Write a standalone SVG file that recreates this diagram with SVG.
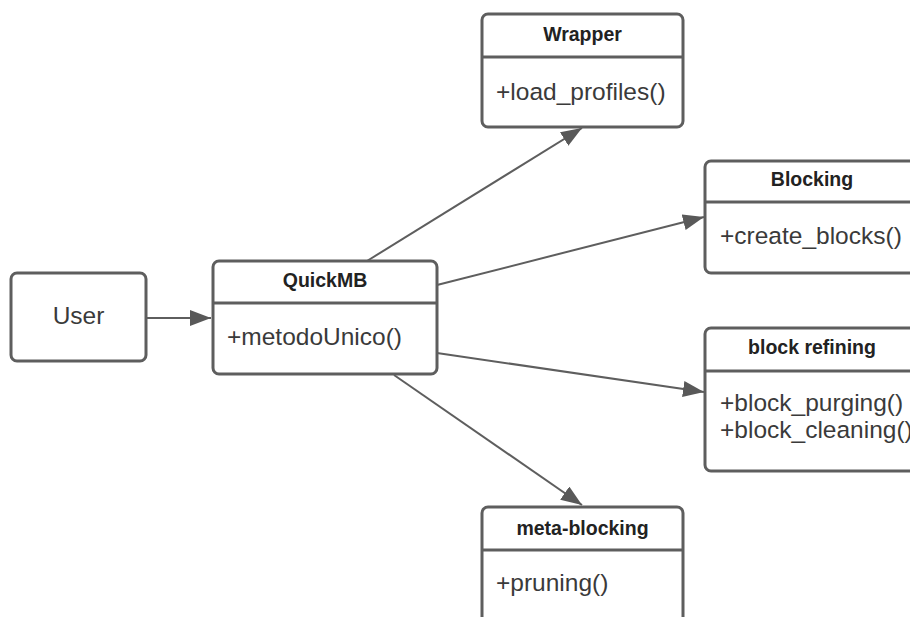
<svg xmlns="http://www.w3.org/2000/svg" width="910" height="617" viewBox="0 0 910 617">
  <defs>
    <marker id="arrow" markerUnits="userSpaceOnUse" markerWidth="22" markerHeight="16" viewBox="0 0 22 16" refX="21" refY="8" orient="auto">
      <path d="M0,0 L21,8 L0,16 Z" fill="#595959"/>
    </marker>
    <style>
      .box { fill: #ffffff; stroke: #5e5e5e; stroke-width: 3; }
      .div { stroke: #5e5e5e; stroke-width: 3; }
      .title { font-family: "Liberation Sans", Arial, sans-serif; font-weight: bold; font-size: 19.5px; fill: #222222; text-anchor: middle; }
      .member { font-family: "Liberation Sans", Arial, sans-serif; font-size: 24.5px; fill: #3a3a3a; }
      .label { font-family: "Liberation Sans", Arial, sans-serif; font-size: 24.5px; fill: #3a3a3a; text-anchor: middle; }
      .edge { stroke: #5e5e5e; stroke-width: 2; fill: none; marker-end: url(#arrow); }
    </style>
  </defs>
  <rect width="910" height="617" fill="#ffffff"/>

  <!-- connectors -->
  <g id="connectors">
    <line class="edge" x1="147" y1="318" x2="211" y2="318"/>
    <line class="edge" x1="367" y1="261" x2="582" y2="128"/>
    <line class="edge" x1="437" y1="285" x2="704" y2="217"/>
    <line class="edge" x1="437" y1="353" x2="704" y2="392"/>
    <line class="edge" x1="394" y1="375" x2="582" y2="505"/>
  </g>

  <!-- actor -->
  <g id="user">
    <rect class="box" x="11" y="273" width="135" height="88" rx="6"/>
    <text class="label" x="78.5" y="324">User</text>
  </g>

  <!-- facade class -->
  <g id="quickmb">
    <rect class="box" x="213" y="261" width="224" height="113" rx="6"/>
    <line class="div" x1="213" y1="303" x2="437" y2="303"/>
    <text class="title" x="325" y="287">QuickMB</text>
    <text class="member" x="227" y="345">+metodoUnico()</text>
  </g>

  <g id="wrapper">
    <rect class="box" x="482" y="14" width="201" height="113" rx="6"/>
    <line class="div" x1="482" y1="57" x2="683" y2="57"/>
    <text class="title" x="582.5" y="41">Wrapper</text>
    <text class="member" x="496" y="100">+load_profiles()</text>
  </g>

  <g id="blocking">
    <rect class="box" x="705" y="161" width="214" height="112" rx="6"/>
    <line class="div" x1="705" y1="202" x2="919" y2="202"/>
    <text class="title" x="812" y="186">Blocking</text>
    <text class="member" x="720" y="244">+create_blocks()</text>
  </g>

  <g id="block-refining">
    <rect class="box" x="705" y="328" width="214" height="143" rx="6"/>
    <line class="div" x1="705" y1="371" x2="919" y2="371"/>
    <text class="title" x="812" y="354">block refining</text>
    <text class="member" x="720" y="411">+block_purging()</text>
    <text class="member" x="720" y="438">+block_cleaning()</text>
  </g>

  <g id="meta-blocking">
    <rect class="box" x="482" y="507" width="201" height="120" rx="6"/>
    <line class="div" x1="482" y1="550" x2="683" y2="550"/>
    <text class="title" x="582.5" y="535">meta-blocking</text>
    <text class="member" x="496" y="591">+pruning()</text>
  </g>
</svg>
